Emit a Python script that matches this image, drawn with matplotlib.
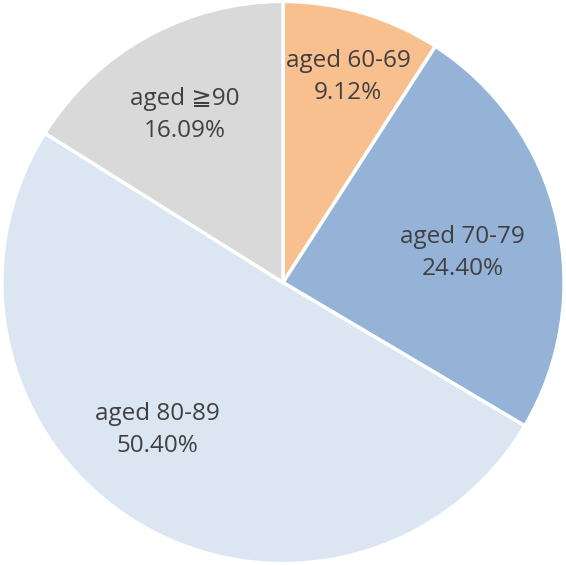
import matplotlib
matplotlib.use('Agg')
import matplotlib.pyplot as plt
import numpy as np

labels = ['aged 60-69', 'aged 70-79', 'aged 80-89', 'aged \u226790']
shares = [9.12, 24.40, 50.40, 16.09]
colors = ['#F9C08F', '#95B3D7', '#DCE6F2', '#D9D9D9']
# label placement: fraction of radius, and turn (deg) from the wedge middle
label_dist = [0.766, 0.648, 0.689, 0.689]
label_turn = [-1.2, -4.0, -9.0, 1.4]

plt.rcParams['font.family'] = ['Open Sans', 'DejaVu Sans', 'Noto Sans CJK JP']

fig = plt.figure(figsize=(5.66, 5.65), dpi=100)
ax = fig.add_axes([0, 0, 1, 1])

texts = ['%s\n%.2f%%' % (l, s) for l, s in zip(labels, shares)]
wedges, label_texts = ax.pie(shares, labels=texts, colors=colors,
                             startangle=90, counterclock=False,
                             labeldistance=1.0, radius=1.0,
                             wedgeprops={'edgecolor': 'white', 'linewidth': 2.5})
for t, d, turn in zip(label_texts, label_dist, label_turn):
    x, y = t.get_position()
    ang = np.arctan2(y, x) + np.deg2rad(turn)
    t.set_position((d * np.cos(ang), d * np.sin(ang)))
    t.set_ha('center')
    t.set_va('center')
    t.set_fontsize(17.5)
    t.set_color('#404040')
    t.set_linespacing(1.45)

ax.set_xlim(-1.005, 1.005)
ax.set_ylim(-1.005, 1.005)
ax.set_aspect('equal')
ax.axis('off')

fig.savefig('out.png', dpi=100)
